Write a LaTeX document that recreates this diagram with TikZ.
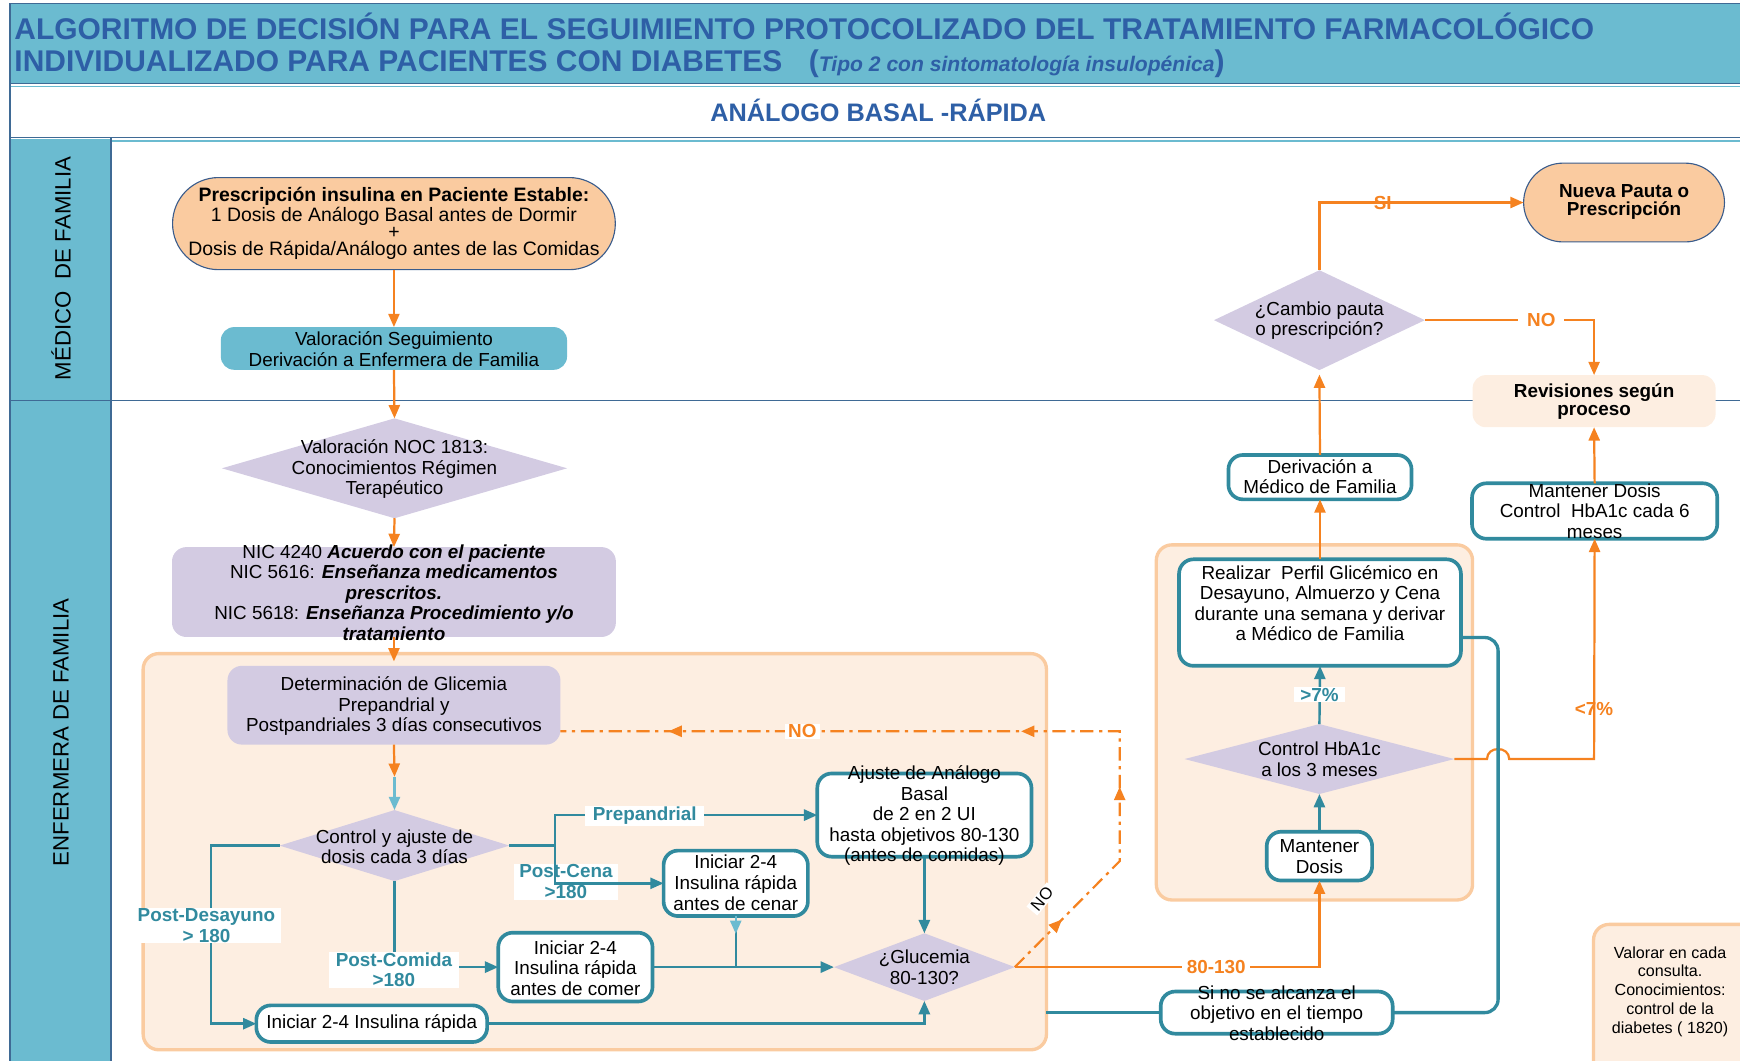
\documentclass[tikz,border=0pt]{standalone}
\usepackage{fontspec}
\setmainfont{Liberation Sans}
\usetikzlibrary{shapes.geometric,arrows.meta,decorations.markings}
\definecolor{hdr}{HTML}{6BBBD0}
\definecolor{hdrline}{HTML}{3F6A95}
\definecolor{ttl}{HTML}{2E5FA6}
\definecolor{tealD}{HTML}{318A9E}
\definecolor{tealL}{HTML}{6BBBD0}
\definecolor{org}{HTML}{F58220}
\definecolor{lav}{HTML}{D3CBE2}
\definecolor{peach}{HTML}{FACBA0}
\definecolor{cream}{HTML}{FDEEE1}
\definecolor{navy}{HTML}{3A5C8C}
\begin{document}
\begin{tikzpicture}[x=1pt,y=-1pt,
  every node/.style={inner sep=0pt, outer sep=0pt},
  txt/.style={align=center, font=\fontsize{17}{18.5}\selectfont, text=black},
  tighttxt/.style={align=center, font=\fontsize{17.5}{15.7}\selectfont, text=black},
  tbox/.style={rectangle, rounded corners=13pt, draw=tealD, line width=3.3pt, fill=white},
  lbox/.style={rectangle, rounded corners=13pt, fill=lav},
  dia/.style={diamond, fill=lav},
  stad/.style={rectangle, fill=peach, draw=navy, line width=1pt},
  oarr/.style={draw=org, line width=2pt, -{Triangle[length=12pt,width=10pt]}},
  tarr/.style={draw=tealD, line width=2.2pt, -{Triangle[length=12pt,width=10pt]}},
  ltarr/.style={draw=tealL, line width=2.2pt, -{Triangle[length=12pt,width=10pt]}},
  tline/.style={draw=tealD, line width=2.2pt},
  tthick/.style={draw=tealD, line width=3pt},
  lab/.style={font=\fontsize{17}{18.5}\selectfont\bfseries, text=tealD, align=center, fill=white, inner xsep=5pt, inner ysep=1pt},
  olab/.style={font=\fontsize{17}{18.5}\selectfont\bfseries, text=org, align=center},
  cont/.style={draw=peach, line width=3pt, fill=cream, rounded corners=14pt}
]
\useasboundingbox (0,0) rectangle (1568,956);

% ---------- header ----------
\fill[hdr] (9,3) rectangle (1575,75);
\fill[white] (9,75) rectangle (1575,124);
\draw[hdr, line width=1.5pt] (10,78) -- (1575,78);
\draw[hdr, line width=1.5pt] (10,127) -- (1575,127);
\draw[hdrline, line width=1.3pt] (1575,3) -- (9,3) -- (9,124);
\draw[hdrline, line width=1.3pt] (9,75) -- (1575,75);
\draw[hdrline, line width=1.3pt] (9,124) -- (1575,124);
\fill[hdr] (9,125) rectangle (100,970);
\draw[hdrline, line width=1.2pt] (9,124) -- (9,970);
\draw[hdrline, line width=1pt] (100,124) -- (100,970);
\draw[hdrline, line width=1.2pt] (9,361) -- (1575,361);

\node[anchor=base west, font=\fontsize{27}{29}\selectfont\bfseries, text=ttl] (tit1) at (13,35.5)
  {ALGORITMO DE DECISIÓN PARA EL SEGUIMIENTO PROTOCOLIZADO DEL TRATAMIENTO FARMACOLÓGICO};
\node[anchor=base west, font=\fontsize{27}{29}\selectfont\bfseries, text=ttl] (tit2) at (13,64)
  {INDIVIDUALIZADO PARA PACIENTES CON DIABETES};
\node[anchor=base west, font=\bfseries, text=ttl] (tit3) at (729,64)
  {{\fontsize{27}{29}\selectfont(}{\fontsize{19}{20}\selectfont\itshape Tipo 2 con sintomatología insulopénica}{\fontsize{27}{29}\selectfont)}};
\node[font=\fontsize{22.8}{23}\selectfont\bfseries, text=ttl] (sub) at (791.5,99.5) {ANÁLOGO BASAL -RÁPIDA};

\node[rotate=90, font=\fontsize{20}{22}\selectfont] (lane1) at (55,242) {MÉDICO\ \ DE FAMILIA};
\node[rotate=90, font=\fontsize{20}{22}\selectfont] (lane2) at (55,660) {ENFERMERA DE FAMILIA};

% ---------- containers ----------
\draw[cont] (129,589) rectangle (943,946);
\draw[cont] (1042,491) rectangle (1327,811);

% ---------- top-left column ----------
\node[stad, rounded corners=41.5pt, minimum width=399pt, minimum height=83pt] (presc) at (355,201.5) {};
\node[tighttxt] (prescT) at (355,201.5) {\textbf{Prescripción insulina en Paciente Estable:}\\1 Dosis de Análogo Basal antes de Dormir\\+\\Dosis de Rápida/Análogo antes de las Comidas};

\node[rectangle, rounded corners=12pt, fill=tealL, minimum width=312pt, minimum height=38.5pt] (valseg) at (355,314) {};
\node[txt] (valsegT) at (355,314.8) {Valoración Seguimiento\\Derivación a Enfermera de Familia};

\node[dia, minimum width=311pt, minimum height=90pt] (noc) at (355.5,422) {};
\node[txt] (nocT) at (355.5,423) {Valoración NOC 1813:\\Conocimientos Régimen\\Terapéutico};

\node[lbox, minimum width=400pt, minimum height=81pt] (nic) at (355,533.5) {};
\node[txt] (nicT) at (355,534) {NIC 4240 \textbf{\textit{Acuerdo con el paciente}}\\NIC 5616: \textbf{\textit{Enseñanza medicamentos}}\\\textbf{\textit{prescritos.}}\\NIC 5618: \textbf{\textit{Enseñanza Procedimiento y/o}}\\\textbf{\textit{tratamiento}}};

\node[lbox, minimum width=300pt, minimum height=71pt] (det) at (355,635.5) {};
\node[txt] (detT) at (355,636.5) {Determinación de Glicemia\\Prepandrial y\\Postpandriales 3 días consecutivos};

\node[dia, minimum width=207pt, minimum height=64pt] (ctrl) at (355.5,762) {};
\node[txt] (ctrlT) at (355.5,763) {Control y ajuste de\\dosis cada 3 días};

\node[tbox, minimum width=193pt, minimum height=75pt] (ajuste) at (833,734.5) {};
\node[txt] (ajusteT) at (833,735) {Ajuste de Análogo\\Basal\\de 2 en 2 UI\\hasta objetivos 80-130\\(antes de comidas)};

\node[tbox, minimum width=130pt, minimum height=59pt] (cenar) at (663,796) {};
\node[txt] (cenarT) at (663,795.5) {Iniciar 2-4\\Insulina rápida\\antes de cenar};

\node[tbox, minimum width=139pt, minimum height=62pt] (comer) at (518.5,871.5) {};
\node[txt] (comerT) at (518.5,872.5) {Iniciar 2-4\\Insulina rápida\\antes de comer};

\node[tbox, minimum width=208pt, minimum height=33pt] (ir) at (335,922.5) {};
\node[txt] (irT) at (335,922.5) {Iniciar 2-4 Insulina rápida};

\node[dia, minimum width=163pt, minimum height=61pt] (gluc) at (833,871.5) {};
\node[txt] (glucT) at (833,871.5) {¿Glucemia\\80-130?};

% ---------- right column ----------
\node[tbox, minimum width=95pt, minimum height=44pt] (mant) at (1189,771.5) {};
\node[txt] (mantT) at (1189,772) {Mantener\\Dosis};

\node[dia, minimum width=243pt, minimum height=63pt] (hba) at (1189,684) {};
\node[txt] (hbaT) at (1189,684) {Control HbA1c\\a los 3 meses};

\node[tbox, minimum width=254pt, minimum height=96pt] (real) at (1189.5,552) {};
\node[txt] (realT) at (1189.5,543.7) {Realizar\ \ Perfil Glicémico en\\Desayuno, Almuerzo y Cena\\durante una semana y derivar\\a Médico de Familia};

\node[tbox, minimum width=165pt, minimum height=40pt] (deriv) at (1189.5,430) {};
\node[txt] (derivT) at (1189.5,429.5) {Derivación a\\Médico de Familia};

\node[dia, minimum width=190pt, minimum height=90pt] (camb) at (1189,288.5) {};
\node[txt] (cambT) at (1189,289) {¿Cambio pauta\\o prescripción?};

\node[stad, rounded corners=35.5pt, minimum width=181pt, minimum height=71pt] (nueva) at (1463.5,182.5) {};
\node[tighttxt, font=\fontsize{17}{15.7}\selectfont\bfseries] (nuevaT) at (1463.5,182) {Nueva Pauta o\\Prescripción};

\node[rectangle, rounded corners=12pt, fill=cream, minimum width=219pt, minimum height=47pt] (rev) at (1436.5,361.5) {};
\node[tighttxt, font=\fontsize{17}{15.7}\selectfont\bfseries] (revT) at (1436.5,361.7) {Revisiones según\\proceso};

\node[tbox, minimum width=221pt, minimum height=50pt] (mant6) at (1437,460.5) {};
\node[txt] (mant6T) at (1437,460.5) {Mantener Dosis\\Control\ \ HbA1c cada 6\\meses};

\node[tbox, minimum width=209pt, minimum height=38pt] (sino) at (1150.5,912.5) {};
\node[txt] (sinoT) at (1150.5,913) {Si no se alcanza el\\objetivo en el tiempo\\establecido};

\node[rectangle, rounded corners=14pt, draw=peach, line width=3pt, fill=cream, minimum width=146pt, minimum height=146pt] (val) at (1509,906) {};
\node[align=center, font=\fontsize{14.5}{16.9}\selectfont] (valT) at (1505,893.5) {Valorar en cada\\consulta.\\Conocimientos:\\control de la\\diabetes ( 1820)};

% ---------- connectors: left ----------
\draw[oarr] (presc.south) -- (valseg.north);
\draw[oarr] (valseg.south) -- (noc.north);
\draw[oarr] (noc.south) -- (nic.north);
\draw[oarr] (nic.south) -- ([yshift=4pt]det.north);
\coordinate (m1) at (355.5,700);
\draw[oarr] (det.south) -- (m1);
\draw[ltarr] (m1) -- (ctrl.north);

\node[lab] (lcena) at (510,794.5) {Post-Cena\\>180};
\coordinate (split) at (500,762);
\draw[tline] (ctrl.east) -- (split);
\draw[tarr] (split) |- (ajuste.west);
\draw[tarr] (split) |- (cenar.west);
\draw[tarr] (ctrl.west) -- (190,762) |- (ir.west);
\draw[tarr] (ctrl.south) |- (comer.west);
\draw[tarr] (comer.east) -- (gluc.west);
\draw[tline] (cenar.south) -- (cenar.south |- gluc.west);
\draw[ltarr] (cenar.south) -- ([yshift=-16pt]cenar.south);
\draw[tarr] (ajuste.south) -- (gluc.north);
\draw[tarr] (ir.east) -| (gluc.south);

\node[lab, inner xsep=7pt] (lpre) at (581,735) {Prepandrial};
\node[lab] (ldes) at (186,834) {Post-Desayuno\\> 180};
\node[lab, inner xsep=6pt] (lcom) at (355,874) {Post-Comida\\>180};

% dashed NO loop
\coordinate (ndg) at (1009,776);
\coordinate (nup) at (1009,659);
\draw[org, line width=2pt, dash pattern=on 12pt off 5pt on 3pt off 5pt,
  postaction={decorate},
  decoration={markings,
    mark=at position 0.08 with {\arrow{Triangle[length=12pt,width=10pt]}},
    mark=at position 0.266 with {\arrow{Triangle[length=12pt,width=10pt]}},
    mark=at position 0.45 with {\arrow{Triangle[length=12pt,width=10pt]}},
    mark=at position 0.871 with {\arrow{Triangle[length=12pt,width=10pt]}}}]
  (gluc.east) -- (ndg) -- (nup) -- (det.east |- nup);
\node[olab, fill=white, inner xsep=3pt, inner ysep=1pt] (lno1) at (723,659) {NO};
\node[rotate=50, fill=white, font=\fontsize{15}{16}\selectfont, inner xsep=3pt, inner ysep=1pt] (lno2) at (939,810) {NO};

% ---------- connectors: right ----------
\draw[oarr] (gluc.east) -| (mant.south);
\node[olab, fill=white, inner xsep=4pt, inner ysep=1pt] (l80) at (1096,871.5) {80-130};
\draw[tarr] (mant.north) -- (hba.south);
\draw[tarr] (hba.north) -- (real.south);
\node[lab, inner xsep=6pt] (l7a) at (1189,626) {>7\%};
\draw[oarr] (hba.east) -- (1340,684) .. controls (1340,672) and (1360,672) .. (1360,684) -- (1436.5,684) -- (mant6.south);
\node[olab] (l7b) at (1436.5,639) {<7\%};
\draw[oarr] (mant6.north) -- (rev.south);
\draw[oarr] (real.north) -- (deriv.south);
\draw[oarr] (deriv.north) -- ([yshift=-4pt]camb.south);
\draw[oarr] (camb.north) |- (nueva.west);
\node[olab] (lsi) at (1246,182.5) {SI};
\draw[oarr] (camb.east) -| (rev.north);
\node[olab, fill=white, inner xsep=8pt, inner ysep=1pt] (lno3) at (1389,288.5) {NO};

\draw[tthick, rounded corners=12pt] ([yshift=-22.5pt]real.east) -- (1350,574.5) -- (1350,912.5) -- (sino.east);
\coordinate (lc) at (943,912.5);
\draw[tthick] (lc) -- (sino.west);
\end{tikzpicture}
\end{document}
